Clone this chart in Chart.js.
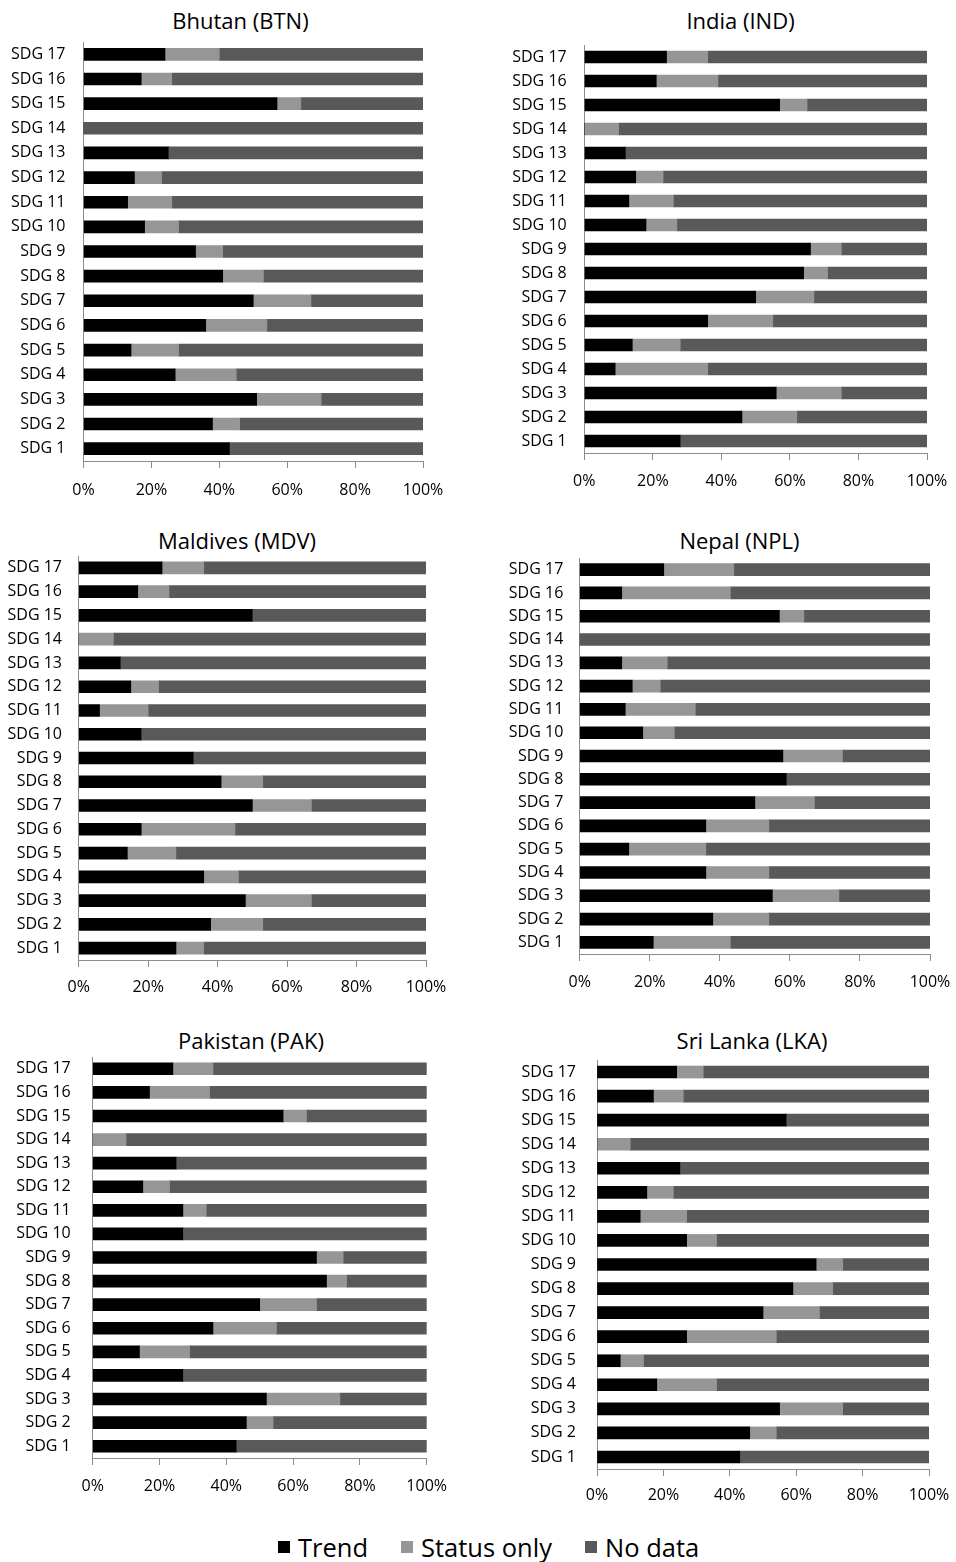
<!DOCTYPE html>
<html>
<head>
<meta charset="utf-8">
<title>SDG indicator coverage - South Asia</title>
<script src="https://cdn.jsdelivr.net/npm/chart.js@4.4.1/dist/chart.umd.min.js"></script>
<style>
    html, body { margin: 0; padding: 0; overflow: hidden; background: #fff; }
    body { width: 956px; height: 1562px; position: relative; font-family: 'Open Sans', sans-serif; color: #000; }
    .panel-title { position: absolute; width: 300px; text-align: center; font-size: 22px; line-height: 30px; }
    .chart-box { position: absolute; }
    .legend { position: absolute; left: 278px; top: 1530px; display: flex; align-items: center; font-size: 25.5px; line-height: 34px; }
    .legend-item { display: flex; align-items: center; margin-right: 33px; }
    .legend-swatch { width: 12px; height: 12px; margin-right: 8px; }
</style>
</head>
<body>
<div id="panels"></div>
<div class="legend" id="legend"></div>

<script>
/* global Chart */
const sdgLabels = ['SDG 1', 'SDG 2', 'SDG 3', 'SDG 4', 'SDG 5', 'SDG 6', 'SDG 7', 'SDG 8', 'SDG 9',
    'SDG 10', 'SDG 11', 'SDG 12', 'SDG 13', 'SDG 14', 'SDG 15', 'SDG 16', 'SDG 17'];
const seriesNames = ['Trend', 'Status only', 'No data'];
const seriesColors = ['#000000', '#969696', '#595959'];
const xTickValues = [0, 20, 40, 60, 80, 100];

// shares in %, SDG 1 .. SDG 17
const btnTrend  = [43, 38, 51, 27, 14, 36, 50, 41, 33, 18, 13, 15, 25, 0, 57, 17, 24];
const btnStatus = [0, 8, 19, 18, 14, 18, 17, 12, 8, 10, 13, 8, 0, 0, 7, 9, 16];
const btnNoData = [57, 54, 30, 55, 72, 46, 33, 47, 59, 72, 74, 77, 75, 100, 36, 74, 60];

const indTrend  = [28, 46, 56, 9, 14, 36, 50, 64, 66, 18, 13, 15, 12, 0, 57, 21, 24];
const indStatus = [0, 16, 19, 27, 14, 19, 17, 7, 9, 9, 13, 8, 0, 10, 8, 18, 12];
const indNoData = [72, 38, 25, 64, 72, 45, 33, 29, 25, 73, 74, 77, 88, 90, 35, 61, 64];

const mdvTrend  = [28, 38, 48, 36, 14, 18, 50, 41, 33, 18, 6, 15, 12, 0, 50, 17, 24];
const mdvStatus = [8, 15, 19, 10, 14, 27, 17, 12, 0, 0, 14, 8, 0, 10, 0, 9, 12];
const mdvNoData = [64, 47, 33, 54, 72, 55, 33, 47, 67, 82, 80, 77, 88, 90, 50, 74, 64];

const nplTrend  = [21, 38, 55, 36, 14, 36, 50, 59, 58, 18, 13, 15, 12, 0, 57, 12, 24];
const nplStatus = [22, 16, 19, 18, 22, 18, 17, 0, 17, 9, 20, 8, 13, 0, 7, 31, 20];
const nplNoData = [57, 46, 26, 46, 64, 46, 33, 41, 25, 73, 67, 77, 75, 100, 36, 57, 56];

const pakTrend  = [43, 46, 52, 27, 14, 36, 50, 70, 67, 27, 27, 15, 25, 0, 57, 17, 24];
const pakStatus = [0, 8, 22, 0, 15, 19, 17, 6, 8, 0, 7, 8, 0, 10, 7, 18, 12];
const pakNoData = [57, 46, 26, 73, 71, 45, 33, 24, 25, 73, 66, 77, 75, 90, 36, 65, 64];

const lkaTrend  = [43, 46, 55, 18, 7, 27, 50, 59, 66, 27, 13, 15, 25, 0, 57, 17, 24];
const lkaStatus = [0, 8, 19, 18, 7, 27, 17, 12, 8, 9, 14, 8, 0, 10, 0, 9, 8];
const lkaNoData = [57, 46, 26, 64, 86, 46, 33, 29, 26, 64, 73, 77, 75, 90, 43, 74, 68];

// page layout of the six small charts (plot area edges in page px)
const panels = [
    { title: 'Bhutan (BTN)', series: [btnTrend, btnStatus, btnNoData],
      col: 0, titleX: 240.5, titleY: 20, left: 83.5, right: 423, top: 41.7, bottom: 460.3, labelGap: 18, tickGap: 13 },
    { title: 'India (IND)', series: [indTrend, indStatus, indNoData],
      col: 478, titleX: 740.5, titleY: 20, left: 584.3, right: 927, top: 45, bottom: 453, labelGap: 17.6, tickGap: 12 },
    { title: 'Maldives (MDV)', series: [mdvTrend, mdvStatus, mdvNoData],
      col: 0, titleX: 237, titleY: 540, left: 78.7, right: 426, top: 556.1, bottom: 959.9, labelGap: 16.7, tickGap: 11 },
    { title: 'Nepal (NPL)', series: [nplTrend, nplStatus, nplNoData],
      col: 478, titleX: 739.5, titleY: 540, left: 579.7, right: 930, top: 558.3, bottom: 954.3, labelGap: 16.4, tickGap: 12 },
    { title: 'Pakistan (PAK)', series: [pakTrend, pakStatus, pakNoData],
      col: 0, titleX: 251, titleY: 1040, left: 92.7, right: 426.7, top: 1057.2, bottom: 1457.8, labelGap: 22, tickGap: 12 },
    { title: 'Sri Lanka (LKA)', series: [lkaTrend, lkaStatus, lkaNoData],
      col: 478, titleX: 752, titleY: 1040, left: 597, right: 929, top: 1060, bottom: 1469, labelGap: 21, tickGap: 10 }
];

const axisColor = '#8c8c8c';
const X_AXIS_H = 46;
const PAD_TOP = 36;
const CANVAS_W = 500;

const sdgCharts = {
    init() {
        Chart.defaults.font.family = "'Open Sans', sans-serif";
        Chart.defaults.font.size = 16;
        Chart.defaults.color = '#000';

        const host = document.getElementById('panels');
        panels.forEach(p => this.buildPanel(host, p));
        this.buildLegend();
    },

    buildPanel(host, p) {
        const title = document.createElement('div');
        title.className = 'panel-title';
        title.textContent = p.title;
        title.style.left = (p.titleX - 150) + 'px';
        title.style.top = (p.titleY - 15) + 'px';
        host.appendChild(title);

        // y axis takes the whole strip left of the plot so its labels are not clipped
        const yAxisWidth = p.left - p.col;
        const height = Math.round(p.bottom - p.top + PAD_TOP + X_AXIS_H);
        const box = document.createElement('div');
        box.className = 'chart-box';
        box.style.left = p.col + 'px';
        box.style.top = (p.top - PAD_TOP) + 'px';
        const canvas = document.createElement('canvas');
        canvas.width = CANVAS_W;
        canvas.height = height;
        box.appendChild(canvas);
        host.appendChild(box);

        new Chart(canvas.getContext('2d'), {
            type: 'bar',
            data: {
                labels: sdgLabels,
                datasets: p.series.map((values, i) => ({
                    label: seriesNames[i],
                    data: values,
                    backgroundColor: seriesColors[i],
                    borderWidth: 0,
                    barThickness: 12
                }))
            },
            options: {
                indexAxis: 'y',
                responsive: false,
                animation: false,
                layout: {
                    padding: {
                        top: PAD_TOP,
                        bottom: 0,
                        left: 0,
                        right: p.col + CANVAS_W - p.right
                    }
                },
                plugins: {
                    legend: { display: false },
                    tooltip: { enabled: false },
                    title: { display: false }
                },
                scales: {
                    x: {
                        stacked: true,
                        min: 0,
                        max: 100,
                        afterFit(scale) { scale.height = X_AXIS_H; },
                        afterBuildTicks(scale) { scale.ticks = xTickValues.map(v => ({ value: v })); },
                        ticks: {
                            padding: p.tickGap,
                            maxRotation: 0,
                            callback: v => v + '%'
                        },
                        grid: { drawOnChartArea: false, drawTicks: true, tickLength: 7, color: axisColor },
                        border: { display: true, color: axisColor, width: 1 }
                    },
                    y: {
                        stacked: true,
                        reverse: true,
                        afterFit(scale) { scale.width = yAxisWidth; },
                        ticks: { padding: p.labelGap, autoSkip: false },
                        grid: { display: false, drawTicks: false },
                        border: { display: true, color: axisColor, width: 1 }
                    }
                }
            }
        });
    },

    buildLegend() {
        const legend = document.getElementById('legend');
        seriesNames.forEach((name, i) => {
            const item = document.createElement('div');
            item.className = 'legend-item';
            const swatch = document.createElement('span');
            swatch.className = 'legend-swatch';
            swatch.style.background = seriesColors[i];
            const text = document.createElement('span');
            text.textContent = name;
            item.appendChild(swatch);
            item.appendChild(text);
            legend.appendChild(item);
        });
    }
};

document.addEventListener('DOMContentLoaded', () => sdgCharts.init());
</script>
</body>
</html>
